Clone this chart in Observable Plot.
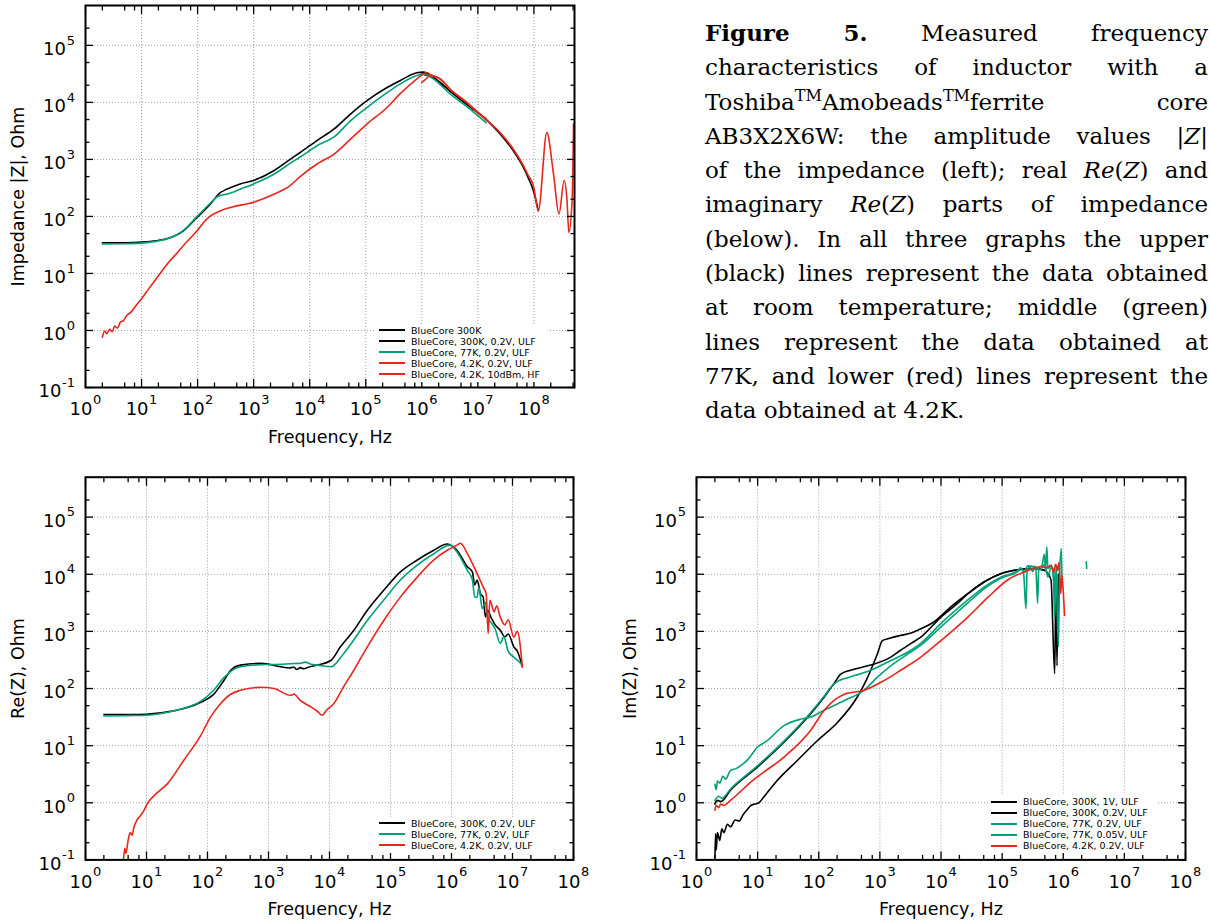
<!DOCTYPE html>
<html><head><meta charset="utf-8">
<script src="https://cdn.jsdelivr.net/npm/d3@7"></script>
<script src="https://cdn.jsdelivr.net/npm/@observablehq/plot@0.6"></script>
<style>
html,body{margin:0;padding:0;background:#fff;}
body{width:1210px;height:922px;position:relative;overflow:hidden;font-family:"DejaVu Sans";}
.panel{position:absolute;}
.panel svg{background:transparent;overflow:visible;}
.legend{position:absolute;background:#fff;font-family:"DejaVu Sans";font-size:9.5px;color:#000;padding:1px 8px 2px 3px;}
.legend .row{display:flex;align-items:center;height:11px;white-space:nowrap;}
.legend .sw{width:26px;height:2px;margin-right:6px;flex:none;}
#caption{position:absolute;left:705px;top:16px;width:503px;font-family:"DejaVu Serif";font-size:23px;line-height:34.3px;color:#000;}
#caption div{text-align:justify;text-align-last:justify;}
#caption div.last{text-align-last:left;}
#caption sup{font-size:0.7em;line-height:0;vertical-align:0.55em;}
</style></head>
<body>
<div id="p1" class="panel" style="left:0;top:0"></div>
<div id="p2" class="panel" style="left:0;top:470px"></div>
<div id="p3" class="panel" style="left:610px;top:470px"></div>
<div id="caption">
<div><b>Figure 5.</b> Measured frequency</div>
<div>characteristics of inductor with a</div>
<div>Toshiba<sup>TM</sup>Amobeads<sup>TM</sup>ferrite core</div>
<div>AB3X2X6W: the amplitude values |<i>Z</i>|</div>
<div>of the impedance (left); real <i>Re</i>(<i>Z</i>) and</div>
<div>imaginary <i>Re</i>(<i>Z</i>) parts of impedance</div>
<div>(below). In all three graphs the upper</div>
<div>(black) lines represent the data obtained</div>
<div>at room temperature; middle (green)</div>
<div>lines represent the data obtained at</div>
<div>77K, and lower (red) lines represent the</div>
<div class="last">data obtained at 4.2K.</div>
</div>
<script>
// ---------- colours ----------
const BLACK = "#000000", GREEN = "#00a078", RED = "#e8261c";

// ---------- axes ----------
const X_DOMAIN_TOP = [1, 5.3e8];
const X_DOMAIN_BOTTOM = [1, 1e8];
const Y_DOMAIN = [0.1, 5e5];
const X_DECADES = [1, 10, 100, 1e3, 1e4, 1e5, 1e6, 1e7, 1e8];
const Y_DECADES = [0.1, 1, 10, 100, 1e3, 1e4, 1e5];
const X_MINOR_MULT = [2, 5, 7.5];
const Y_MINOR_MULT = [2, 5];

// ---------- top: |Z| ----------
const absZ_300K = [[1e6,3.16e4],[1.62e6,2.7e4],[3.2e6,1.58e4],[6.3e6,9300],[1.26e7,5500],[2.5e7,2800],[4.3e7,1410],[6.5e7,724],[7.9e7,480],[9.8e7,282],[1.2e8,126]];
const absZ_300K_02V = [[2,34.4],[5,34.6],[10,35.5],[18,37.5],[29,41],[56,56],[98,96],[170,166],[257,263],[339,302],[575,372],[1000,427],[2290,631],[4470,1000],[6760,1320],[1.35e4,2140],[2.69e4,3390],[5.4e4,6300],[1.05e5,1.07e4],[2.4e5,1.82e4],[4.07e5,2.4e4],[8.1e5,3.3e4],[1.07e6,3.4e4],[1.62e6,2.7e4],[3.2e6,1.58e4],[6.3e6,9300],[1.26e7,5500],[1.4e7,5000]];
const absZ_77K_02V = [[2,33],[5,33.2],[10,34],[18,36.5],[29,40.5],[56,57],[98,100],[170,172],[230,225],[339,247],[575,300],[1000,372],[2290,550],[4470,850],[6760,1100],[1.35e4,1740],[2.69e4,2450],[5.4e4,4800],[1.05e5,8130],[2.4e5,1.48e4],[4.07e5,2.09e4],[8.1e5,2.95e4],[1.07e6,3.16e4],[1.6e6,2.6e4],[3.2e6,1.41e4],[6.3e6,8500],[1.26e7,4800],[1.4e7,4400]];
const absZ_4K_02V = [[2,0.76],[2.2,0.98],[2.4,0.88],[2.7,1.05],[3,0.95],[3.3,1.2],[3.7,1.1],[4.2,1.4],[4.8,1.5],[5.5,1.85],[6.5,2.1],[8,2.75],[10,3.6],[14,5.7],[20,9.1],[29,14.8],[45,24],[56,31],[98,56],[130,80],[170,102],[257,126],[400,145],[1000,178],[2290,245],[4470,347],[6760,500],[1.35e4,830],[2.69e4,1230],[5.4e4,2290],[1.05e5,4170],[2.4e5,8130],[4.07e5,1.41e4],[8.1e5,2.57e4],[1.0e6,3.0e4],[1.1e6,3.2e4],[1.23e6,3.35e4],[1.4e6,3.1e4],[2.14e6,2.57e4],[3.2e6,1.7e4],[6.3e6,1e4],[1.26e7,5500],[1.4e7,5200]];
const absZ_4K_HF = [[1e6,2.24e4],[1.15e6,2.5e4],[1.4e6,2.95e4],[2.14e6,2.57e4],[3.2e6,1.7e4],[6.3e6,1e4],[1.26e7,5500],[2.5e7,2950],[4.3e7,1510],[6.5e7,776],[7.9e7,525],[9.8e7,347],[1.2e8,126],[1.7e8,2950],[2.24e8,550],[2.8e8,110],[3.47e8,427],[3.9e8,190],[4.2e8,52],[4.8e8,190],[5.1e8,4170]];

// ---------- bottom left: Re(Z) ----------
const re_300K = [[2,35],[5,35],[10,35.5],[22,39],[41,44.7],[78,57.5],[126,79],[186,138],[240,209],[347,257],[741,275],[1585,240],[2200,228],[2600,238],[2900,215],[3310,232],[3800,222],[4500,236],[6310,257],[1.05e4,309],[1.51e4,537],[2.51e4,1047],[4.17e4,2340],[7.76e4,5250],[1.45e5,1.1e4],[2.75e5,1.78e4],[5.13e5,2.63e4],[8.5e5,3.39e4],[1.23e6,2.63e4],[1.82e6,1.35e4],[2.2e6,1.1e4],[2.4e6,6500],[2.63e6,7940],[3.0e6,4500],[3.3e6,4000],[3.6e6,1800],[3.89e6,2340],[4.5e6,1700],[5.2e6,1300],[6.3e6,1050],[7.5e6,800],[8.5e6,900],[1.05e7,537],[1.2e7,450],[1.45e7,240]];
const re_77K = [[2,33],[5,33.5],[10,34],[22,38.5],[41,45],[78,60],[126,93],[186,155],[240,200],[347,240],[741,260],[1585,265],[2300,272],[3310,275],[4000,290],[5000,265],[6310,257],[1.05e4,240],[1.7e4,407],[4.17e4,1550],[7.76e4,3550],[1.45e5,7940],[2.75e5,1.45e4],[5.13e5,2.29e4],[9.5e5,3.24e4],[1.23e6,2.45e4],[1.82e6,1.17e4],[2.2e6,8000],[2.4e6,4000],[2.63e6,3980],[2.8e6,6000],[3.2e6,2500],[3.6e6,3200],[3.89e6,1780],[4.5e6,1400],[5.2e6,1100],[6.3e6,617],[7.2e6,800],[8.5e6,450],[1.05e7,355],[1.25e7,300],[1.45e7,257]];
const re_4K = [[4.2,0.1],[4.4,0.16],[4.6,0.13],[5,0.22],[5.4,0.3],[5.8,0.27],[6.2,0.37],[7,0.5],[8,0.6],[9,0.72],[10.2,0.95],[14,1.4],[21.9,2.14],[40.7,5.5],[77.6,15.1],[112,31.6],[162,53.7],[240,79.4],[347,93],[741,105],[1230,100],[2290,76],[2600,80],[3310,62],[4900,48],[6300,40],[7590,34],[9000,42],[1.17e4,54],[1.7e4,107],[2.51e4,209],[4.17e4,537],[7.76e4,1550],[1.45e5,3980],[2.75e5,8910],[5.13e5,1.78e4],[8.5e5,2.63e4],[1.23e6,3.24e4],[1.4e6,3.5e4],[1.82e6,2.29e4],[2.63e6,1.02e4],[3.3e6,6000],[3.7e6,4500],[4.0e6,912],[4.25e6,3500],[5e6,2200],[5.5e6,2800],[6.3e6,1780],[7.5e6,1300],[8.5e6,1600],[1.05e7,794],[1.2e7,1000],[1.45e7,240]];

// ---------- bottom right: Im(Z) ----------
const im_300K_1V = [[2,0.1],[2.05,0.29],[2.1,0.15],[2.2,0.3],[2.4,0.22],[2.6,0.35],[2.8,0.3],[3.2,0.42],[3.6,0.38],[4.3,0.5],[5,0.48],[5.8,0.62],[6.7,0.75],[7.8,0.9],[9,0.95],[10.5,1.0],[12.6,1.26],[20.9,2.45],[44.7,5.5],[95.5,12.3],[204,25.7],[427,71],[600,140],[708,209],[912,407],[1100,690],[1350,741],[2190,851],[3240,933],[4170,1050],[7760,1480],[1.45e4,2690],[2.75e4,4570],[5.13e4,7410],[9.5e4,1.02e4],[1.82e5,1.2e4],[3.39e5,1.26e4],[4.9e5,1.17e4],[6.3e5,8000],[7.24e5,182],[7.6e5,8000],[7.9e5,250],[8.3e5,1e4]];
const im_300K_02V = [[2,0.95],[2.2,1.1],[2.5,1.05],[3.6,1.66],[9.8,4.17],[27,11.5],[74,36.3],[123,70.8],[178,123],[229,178],[331,209],[708,257],[1510,355],[2190,468],[3240,617],[4680,794],[1e4,1780],[1.86e4,3090],[2.75e4,4570],[5.13e4,7410],[9.5e4,1.02e4],[1.82e5,1.2e4],[3.39e5,1.26e4],[4.9e5,1.17e4]];
const im_77K_02V = [[2,1.1],[2.3,1.3],[2.6,1.2],[3.6,1.74],[9.8,4.37],[27,12],[74,38],[123,74],[158,105],[200,132],[257,148],[400,170],[708,209],[1510,309],[3240,468],[4680,617],[1e4,1380],[2.75e4,3550],[5.13e4,6030],[9.5e4,8910],[1.82e5,1.17e4],[2.0e5,1.3e4],[2.3e5,1.1e4],[2.6e5,1.4e4],[3.39e5,1.35e4],[4.2e5,1.2e4],[5.0e5,1.5e4],[5.6e5,9000],[6.3e5,1.3e4],[7e5,1.2e4],[7.4e5,3000],[7.8e5,1.3e4],[8.5e5,1.4e4]];
const im_77K_005V = [[2,2.1],[2.1,1.7],[2.2,2.4],[2.4,2.2],[2.7,2.9],[3,2.6],[3.6,3.7],[4.5,4.0],[5.5,4.6],[7,5.8],[9.8,9.3],[14,12],[27,22.4],[50,29],[74,31.6],[123,41.7],[263,61.7],[550,93],[912,158],[1700,275],[3240,437],[4680,575],[1e4,1200],[2.75e4,3160],[5.13e4,5620],[9.5e4,8510],[1.82e5,1.12e4],[2.0e5,1.26e4],[2.24e5,1.05e4],[2.45e5,2510],[2.57e5,1.2e4],[2.82e5,1.32e4],[3.16e5,1.12e4],[3.55e5,1.38e4],[3.8e5,3090],[3.98e5,1.32e4],[4.47e5,1.41e4],[4.9e5,2.24e4],[5.13e5,1.12e4],[5.37e5,3.02e4],[5.62e5,1.26e4],[6.31e5,1.41e4],[6.92e5,7940],[7.24e5,1780],[7.59e5,1.26e4],[8.32e5,537],[8.71e5,1e4],[9.33e5,2.82e4],[9.55e5,6310],[2.0e6,null],[2.38e6,1.66e4],[2.42e6,1.26e4]];
const im_4K_02V = [[2,0.74],[2.1,0.9],[2.3,0.82],[2.5,0.95],[2.8,0.9],[3.6,1.1],[5,1.5],[7,2.1],[9.8,2.82],[27,6.3],[74,18.6],[123,41.7],[178,61.7],[263,79.4],[550,93],[1175,138],[2190,209],[4680,355],[1e4,692],[2.75e4,1780],[5.9e4,3980],[1.23e5,7940],[2.3e5,1.1e4],[4.37e5,1.35e4],[5.5e5,1.3e4],[6.3e5,1.45e4],[7e5,1.1e4],[7.5e5,1.5e4],[8.1e5,1.17e4],[8.5e5,1.6e4],[9.1e5,4570],[9.5e5,9500],[1.0e6,5000],[1.05e6,1900]];

// ---------- labels ----------
const LEGEND_TOP = ["BlueCore 300K","BlueCore, 300K, 0.2V, ULF","BlueCore, 77K, 0.2V, ULF","BlueCore, 4.2K, 0.2V, ULF","BlueCore, 4.2K, 10dBm, HF"];
const LEGEND_RE = ["BlueCore, 300K, 0.2V, ULF","BlueCore, 77K, 0.2V, ULF","BlueCore, 4.2K, 0.2V, ULF"];
const LEGEND_IM = ["BlueCore, 300K, 1V, ULF","BlueCore, 300K, 0.2V, ULF","BlueCore, 77K, 0.2V, ULF","BlueCore, 77K, 0.05V, ULF","BlueCore, 4.2K, 0.2V, ULF"];
const X_LABEL = "Frequency, Hz";

const expOf = d => String(Math.round(Math.log10(d)));

function panel(o) {
  const [x0, x1] = o.xDomain;
  const xMajor = X_DECADES.filter(d => d >= x0 && d <= x1);
  const xMinor = X_DECADES.flatMap(d => X_MINOR_MULT.map(m => d * m)).filter(v => v > x0 && v < x1);
  const yMinor = Y_DECADES.flatMap(d => Y_MINOR_MULT.map(m => d * m)).filter(v => v > Y_DOMAIN[0] && v < Y_DOMAIN[1]);
  const yPos = Y_DECADES.filter(d => d >= 1), yNeg = Y_DECADES.filter(d => d < 1);
  const tk = {stroke: "black", strokeWidth: 1.3, fill: "none", label: null};
  const MJ = 8, MN = 4.5;
  const grid = {stroke: "#a0a0a0", strokeOpacity: 1, strokeWidth: 1, strokeDasharray: "1,2"};
  const base = {fontSize: 18, fill: "black"};
  const sup = {fontSize: 13, fill: "black"};
  return Plot.plot({
    width: o.width, height: o.height,
    marginLeft: o.mL, marginRight: o.mR, marginTop: o.mT, marginBottom: o.mB,
    x: {type: "log", domain: o.xDomain, axis: null},
    y: {type: "log", domain: Y_DOMAIN, axis: null},
    style: {fontFamily: "DejaVu Sans", fontSize: "17px", color: "black", background: "transparent", overflow: "visible"},
    marks: [
      Plot.gridX(xMajor.filter(d => d > x0 && d < x1), grid),
      Plot.gridY(Y_DECADES.filter(d => d > Y_DOMAIN[0]), grid),
      ...o.series.map(s => Plot.line(s.data, {x: d => d[0], y: d => d[1], stroke: s.color, strokeWidth: 1.6, curve: "monotone-x", clip: true})),
      // inward ticks on all four sides
      Plot.axisX(xMajor, {anchor: "bottom", tickSize: MJ, dy: -MJ, ...tk}),
      Plot.axisX(xMajor, {anchor: "top", tickSize: MJ, dy: MJ, ...tk}),
      Plot.axisX(xMinor, {anchor: "bottom", tickSize: MN, dy: -MN, ...tk}),
      Plot.axisX(xMinor, {anchor: "top", tickSize: MN, dy: MN, ...tk}),
      Plot.axisY(Y_DECADES, {anchor: "left", tickSize: MJ, dx: MJ, ...tk}),
      Plot.axisY(Y_DECADES, {anchor: "right", tickSize: MJ, dx: -MJ, ...tk}),
      Plot.axisY(yMinor, {anchor: "left", tickSize: MN, dx: MN, ...tk}),
      Plot.axisY(yMinor, {anchor: "right", tickSize: MN, dx: -MN, ...tk}),
      // tick labels 10^n
      Plot.text(xMajor, {x: d => d, frameAnchor: "bottom", text: () => "10", textAnchor: "end", lineAnchor: "middle", dx: 7, dy: 22, ...base}),
      Plot.text(xMajor, {x: d => d, frameAnchor: "bottom", text: expOf, textAnchor: "start", lineAnchor: "middle", dx: 7.5, dy: 12, ...sup}),
      Plot.text(yPos, {y: d => d, frameAnchor: "left", text: () => "10", textAnchor: "end", lineAnchor: "middle", dx: -19.5, dy: 4, ...base}),
      Plot.text(yPos, {y: d => d, frameAnchor: "left", text: expOf, textAnchor: "end", lineAnchor: "middle", dx: -10.5, dy: -5, ...sup}),
      Plot.text(yNeg, {y: d => d, frameAnchor: "left", text: () => "10", textAnchor: "end", lineAnchor: "middle", dx: -24, dy: 4, ...base}),
      Plot.text(yNeg, {y: d => d, frameAnchor: "left", text: expOf, textAnchor: "end", lineAnchor: "middle", dx: -10.5, dy: -5, ...sup}),
      Plot.frame({stroke: "black", strokeWidth: 2}),
      Plot.text([X_LABEL], {text: d => d, frameAnchor: "bottom", textAnchor: "middle", lineAnchor: "middle", dy: o.xlabDy, fontSize: 17.5, fill: "black"}),
      Plot.text([o.ylabel], {text: d => d, frameAnchor: "left", textAnchor: "middle", lineAnchor: "middle", dx: o.ylabDx, rotate: -90, fontSize: 17.5, fill: "black"})
    ]
  });
}

function legend(left, top, labels, colors) {
  const div = document.createElement("div");
  div.className = "legend";
  div.style.left = left + "px";
  div.style.top = top + "px";
  labels.forEach((t, i) => {
    const r = document.createElement("div");
    r.className = "row";
    const sw = document.createElement("span");
    sw.className = "sw";
    sw.style.background = colors[i];
    const tx = document.createElement("span");
    tx.textContent = t;
    r.appendChild(sw); r.appendChild(tx);
    div.appendChild(r);
  });
  document.body.appendChild(div);
}

document.getElementById("p1").appendChild(panel({
  width: 590, height: 450, mL: 85, mR: 16, mT: 5, mB: 63,
  xDomain: X_DOMAIN_TOP, ylabel: "Impedance |Z|, Ohm", ylabDx: -67, xlabDy: 50,
  series: [
    {data: absZ_300K, color: BLACK}, {data: absZ_300K_02V, color: BLACK},
    {data: absZ_77K_02V, color: GREEN},
    {data: absZ_4K_02V, color: RED}, {data: absZ_4K_HF, color: RED}
  ]
}));
document.getElementById("p2").appendChild(panel({
  width: 600, height: 452, mL: 85, mR: 27, mT: 6.7, mB: 62.6,
  xDomain: X_DOMAIN_BOTTOM, ylabel: "Re(Z), Ohm", ylabDx: -67, xlabDy: 49,
  series: [
    {data: re_300K, color: BLACK}, {data: re_77K, color: GREEN}, {data: re_4K, color: RED}
  ]
}));
document.getElementById("p3").appendChild(panel({
  width: 600, height: 452, mL: 86, mR: 25, mT: 6.7, mB: 62.6,
  xDomain: X_DOMAIN_BOTTOM, ylabel: "Im(Z), Ohm", ylabDx: -66, xlabDy: 49,
  series: [
    {data: im_300K_1V, color: BLACK}, {data: im_300K_02V, color: BLACK},
    {data: im_77K_02V, color: GREEN}, {data: im_77K_005V, color: GREEN},
    {data: im_4K_02V, color: RED}
  ]
}));

legend(376, 323.5, LEGEND_TOP, [BLACK, BLACK, GREEN, RED, RED]);
legend(376, 816.8, LEGEND_RE, [BLACK, GREEN, RED]);
legend(988, 795.2, LEGEND_IM, [BLACK, BLACK, GREEN, GREEN, RED]);
</script>
</body></html>
